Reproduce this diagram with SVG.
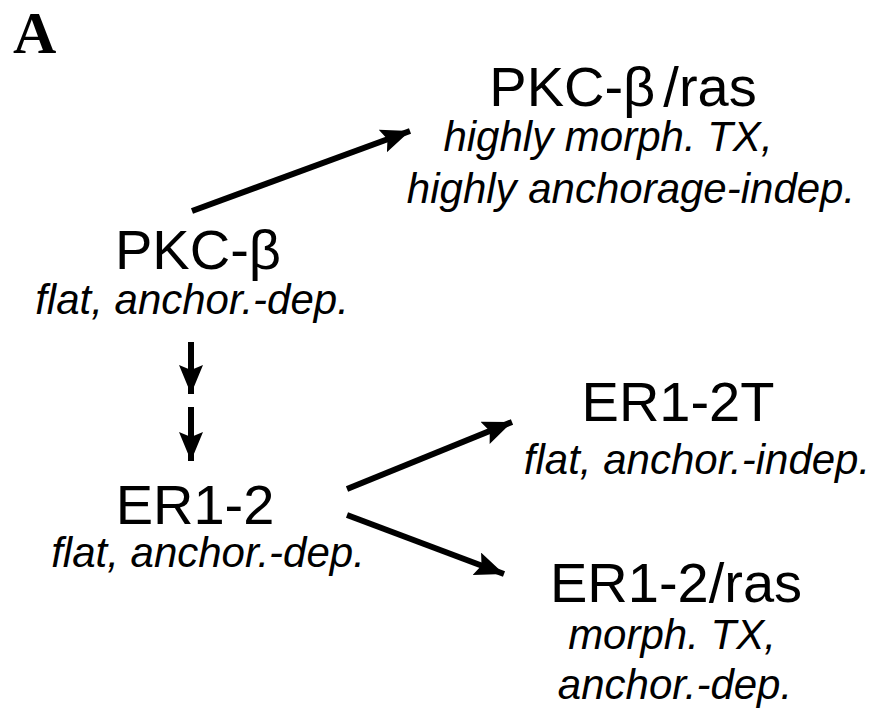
<svg xmlns="http://www.w3.org/2000/svg" width="884" height="715" viewBox="0 0 884 715">
  <style>
    .panel { font-family: "Liberation Serif", "Times New Roman", serif; font-weight: bold; font-size: 60px; fill: #000; }
    .name { font-family: "Liberation Sans", Arial, sans-serif; font-size: 56px; fill: #000; text-anchor: middle; }
    .desc { font-family: "Liberation Sans", Arial, sans-serif; font-style: italic; font-size: 42px; fill: #000; text-anchor: middle; }
    .conn { stroke: #000; stroke-width: 6; fill: none; marker-end: url(#head); }
  </style>
  <defs>
    <!-- solid arrowhead with a slightly notched back -->
    <marker id="head" markerUnits="userSpaceOnUse" markerWidth="32" markerHeight="26" refX="29" refY="12" orient="auto">
      <path d="M0,0 L29,12 L0,24 L5,12 Z" fill="#000"/>
    </marker>
  </defs>

  <rect width="884" height="715" fill="#fff"/>

  <text class="panel" x="13" y="53">A</text>

  <g id="connectors">
    <line class="conn" x1="192" y1="211" x2="410" y2="131"/>
    <line class="conn" x1="191" y1="342" x2="191" y2="394"/>
    <line class="conn" x1="191" y1="407" x2="191" y2="461"/>
    <line class="conn" x1="347" y1="489" x2="512" y2="422"/>
    <line class="conn" x1="347" y1="515" x2="504" y2="574"/>
  </g>

  <g id="pkc-beta-ras">
    <text class="name" x="623" y="106">PKC-β<tspan dx="8">/ras</tspan></text>
    <text class="desc" x="608" y="151">highly morph. TX,</text>
    <text class="desc" x="631" y="203">highly anchorage-indep.</text>
  </g>

  <g id="pkc-beta">
    <text class="name" x="198" y="269">PKC-β</text>
    <text class="desc" x="192" y="314">flat, anchor.-dep.</text>
  </g>

  <g id="er1-2">
    <text class="name" x="195" y="524">ER1-2</text>
    <text class="desc" x="208" y="567">flat, anchor.-dep.</text>
  </g>

  <g id="er1-2t">
    <text class="name" x="678" y="421">ER1-2T</text>
    <text class="desc" x="697" y="474">flat, anchor.-indep.</text>
  </g>

  <g id="er1-2-ras">
    <text class="name" x="676" y="602">ER1-2/ras</text>
    <text class="desc" x="672" y="649">morph. TX,</text>
    <text class="desc" x="675" y="699">anchor.-dep.</text>
  </g>
</svg>
